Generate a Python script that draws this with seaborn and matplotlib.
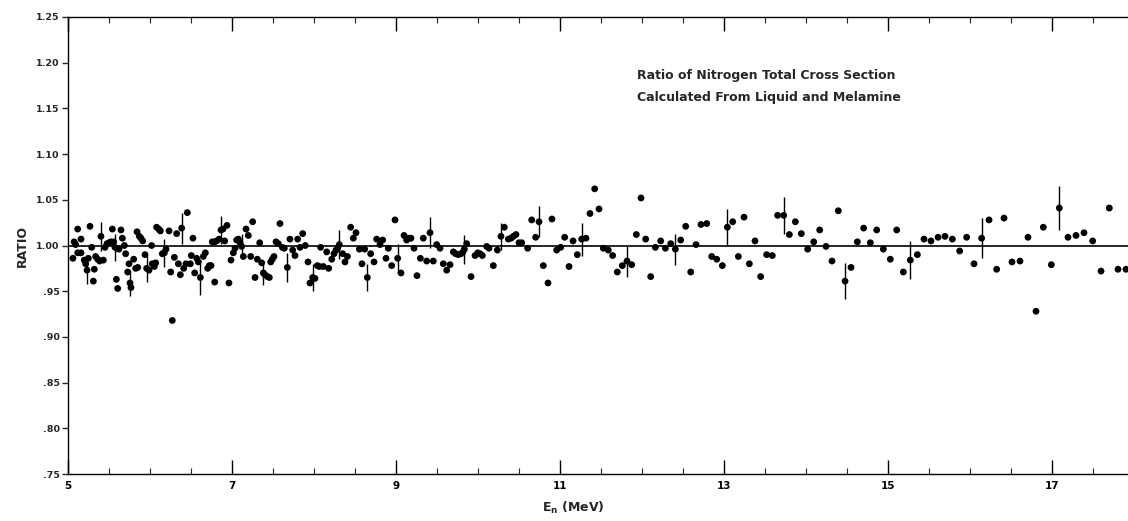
import numpy as np
import pandas as pd
import seaborn as sns
import matplotlib.pyplot as plt

# Neutron energy (MeV) and cross-section ratio for each measured point
energy = [
    5.060, 5.075, 5.093, 5.118, 5.118, 5.159, 5.159, 5.199, 5.216, 5.232, 5.248, 5.268,
    5.289, 5.309, 5.321, 5.337, 5.362, 5.386, 5.402, 5.431, 5.451, 5.476, 5.500, 5.524,
    5.541, 5.557, 5.573, 5.590, 5.598, 5.606, 5.622, 5.646, 5.663, 5.687, 5.703, 5.728,
    5.744, 5.756, 5.768, 5.801, 5.825, 5.842, 5.850, 5.870, 5.890, 5.911, 5.939, 5.959,
    5.988, 6.020, 6.028, 6.053, 6.069, 6.081, 6.106, 6.126, 6.150, 6.175, 6.195, 6.232,
    6.252, 6.272, 6.297, 6.325, 6.346, 6.370, 6.386, 6.411, 6.439, 6.455, 6.492, 6.504,
    6.524, 6.545, 6.569, 6.589, 6.614, 6.650, 6.675, 6.703, 6.724, 6.744, 6.760, 6.789,
    6.789, 6.813, 6.842, 6.866, 6.890, 6.911, 6.939, 6.963, 6.988, 7.016,
    7.037, 7.057, 7.077, 7.098, 7.118, 7.138, 7.171, 7.199, 7.228, 7.252, 7.281, 7.309,
    7.338, 7.362, 7.382, 7.402, 7.431, 7.455, 7.472, 7.492, 7.512, 7.537, 7.565, 7.585,
    7.614, 7.638, 7.675, 7.707, 7.740, 7.768, 7.801, 7.829, 7.862, 7.894, 7.927, 7.951,
    7.984, 8.012, 8.041, 8.065, 8.081, 8.114, 8.155, 8.179, 8.216, 8.244, 8.268, 8.289,
    8.309, 8.350, 8.378, 8.407, 8.447, 8.480, 8.512, 8.553, 8.585, 8.618, 8.650, 8.691,
    8.732, 8.764, 8.805, 8.837, 8.878, 8.907,
    8.947, 8.988, 9.020, 9.061, 9.098, 9.130, 9.159, 9.183, 9.220, 9.256, 9.297, 9.333,
    9.374, 9.415, 9.455, 9.496, 9.537, 9.577, 9.618, 9.659, 9.699, 9.728, 9.760, 9.793,
    9.817, 9.834, 9.862, 9.915, 9.964, 9.996, 10.024, 10.053, 10.106, 10.134, 10.187, 10.236,
    10.280, 10.321, 10.370, 10.403, 10.431, 10.463, 10.500, 10.533, 10.606, 10.655, 10.703, 10.744,
    10.797,
    10.854, 10.902, 10.959, 11.008, 11.057, 11.110, 11.159, 11.211, 11.264, 11.317, 11.366, 11.423,
    11.476, 11.528, 11.589, 11.642, 11.699, 11.760, 11.817, 11.874, 11.931, 11.988, 12.045, 12.106,
    12.163, 12.228, 12.285, 12.350, 12.407, 12.472, 12.533, 12.594, 12.659,
    12.719, 12.789, 12.850, 12.911, 12.980, 13.041, 13.106, 13.175, 13.244, 13.309, 13.378, 13.447,
    13.520, 13.589, 13.654, 13.728, 13.797, 13.870, 13.943, 14.020, 14.094, 14.167, 14.244, 14.317,
    14.394, 14.476, 14.549,
    14.626, 14.703, 14.785, 14.862, 14.943, 15.028, 15.106, 15.187, 15.272, 15.358, 15.439, 15.524,
    15.610, 15.695, 15.785, 15.874, 15.959, 16.049, 16.142, 16.232, 16.325, 16.415,
    16.512, 16.610, 16.707, 16.805, 16.894, 16.992, 17.089, 17.195, 17.293, 17.390, 17.496, 17.598,
    17.699, 17.805, 17.902,
]
ratio = [
    0.986, 1.004, 1.001, 1.018, 0.992, 1.007, 0.992, 0.984, 0.980, 0.973, 0.986, 1.021,
    0.998, 0.961, 0.974, 0.988, 0.985, 0.983, 1.010, 0.984, 0.998, 1.002, 1.003, 1.004,
    1.018, 1.004, 0.998, 0.963, 0.997, 0.953, 0.996, 1.017, 1.008, 1.000, 0.991, 0.971,
    0.980, 0.959, 0.954, 0.985, 0.975, 1.015, 0.976, 1.010, 1.008, 1.005, 0.990, 0.975,
    0.973, 1.000, 0.980, 0.977, 0.981, 1.020, 1.018, 1.016, 0.991, 0.992, 0.996, 1.016,
    0.971, 0.918, 0.987, 1.013, 0.980, 0.968, 1.019, 0.975, 0.980, 1.036, 0.980, 0.989,
    1.008, 0.970, 0.986, 0.982, 0.965, 0.988, 0.992, 0.975, 0.978, 0.978, 1.004, 1.004,
    0.960, 1.005, 1.007, 1.017, 1.018, 1.005, 1.022, 0.959, 0.984, 0.992,
    0.997, 1.006, 1.007, 1.003, 0.999, 0.988, 1.018, 1.011, 0.988, 1.026, 0.965, 0.985,
    1.003, 0.981, 0.970, 0.968, 0.966, 0.965, 0.982, 0.985, 0.988, 1.004, 1.002, 1.024,
    0.998, 0.997, 0.976, 1.007, 0.995, 0.989, 1.007, 0.998, 1.013, 1.000, 0.982, 0.959,
    0.965, 0.964, 0.978, 0.977, 0.998, 0.977, 0.993, 0.975, 0.985, 0.991, 0.995, 0.997,
    1.001, 0.991, 0.982, 0.988, 1.020, 1.008, 1.014, 0.996, 0.980, 0.996, 0.965, 0.991,
    0.982, 1.007, 1.001, 1.006, 0.986, 0.997,
    0.978, 1.028, 0.986, 0.970, 1.011, 1.006, 1.008, 1.008, 0.997, 0.967, 0.986, 1.008,
    0.983, 1.014, 0.983, 1.001, 0.997, 0.980, 0.973, 0.979, 0.993, 0.991, 0.990, 0.991,
    0.993, 0.996, 1.002, 0.966, 0.989, 0.992, 0.991, 0.989, 0.999, 0.997, 0.978, 0.995,
    1.010, 1.020, 1.007, 1.008, 1.010, 1.012, 1.003, 1.003, 0.997, 1.028, 1.009, 1.026,
    0.978,
    0.959, 1.029, 0.995, 0.998, 1.009, 0.977, 1.005, 0.990, 1.007, 1.008, 1.035, 1.062,
    1.040, 0.997, 0.995, 0.989, 0.971, 0.978, 0.983, 0.979, 1.012, 1.052, 1.007, 0.966,
    0.998, 1.005, 0.997, 1.002, 0.996, 1.006, 1.021, 0.971, 1.001,
    1.023, 1.024, 0.988, 0.985, 0.978, 1.020, 1.026, 0.988, 1.031, 0.980, 1.005, 0.966,
    0.990, 0.989, 1.033, 1.033, 1.012, 1.026, 1.013, 0.996, 1.004, 1.017, 0.999, 0.983,
    1.038, 0.961, 0.976,
    1.004, 1.019, 1.003, 1.017, 0.996, 0.985, 1.017, 0.971, 0.984, 0.990, 1.007, 1.005,
    1.009, 1.010, 1.007, 0.994, 1.009, 0.980, 1.008, 1.028, 0.974, 1.030,
    0.982, 0.983, 1.009, 0.928, 1.020, 0.979, 1.041, 1.009, 1.011, 1.014, 1.005, 0.972,
    1.041, 0.974, 0.974,
]

# Points carrying a statistical error bar (half-length in ratio units)
err_energy = [5.232, 5.402, 5.573, 5.756, 5.959, 6.175, 6.386, 6.614, 6.866, 7.118,
              7.382, 7.675, 7.984, 8.309, 8.650, 9.020, 9.415, 9.834, 10.280, 10.744,
              11.264, 11.817, 12.407, 13.041, 13.728, 14.476, 15.272, 16.142, 17.089]
err_ratio = [0.973, 1.010, 0.998, 0.959, 0.975, 0.992, 1.019, 0.965, 1.017, 0.999,
             0.970, 0.976, 0.965, 1.001, 0.965, 0.986, 1.014, 0.996, 1.010, 1.026,
             1.007, 0.983, 0.996, 1.020, 1.033, 0.961, 0.984, 1.008, 1.041]
err_half = [0.015, 0.016, 0.015, 0.014, 0.015, 0.015, 0.017, 0.019, 0.015, 0.014,
            0.013, 0.016, 0.015, 0.016, 0.015, 0.016, 0.017, 0.016, 0.015, 0.017,
            0.018, 0.017, 0.017, 0.020, 0.020, 0.020, 0.021, 0.022, 0.024]

x_major = [5, 7, 9, 11, 13, 15, 17]
y_ticks = [0.75, 0.80, 0.85, 0.90, 0.95, 1.00, 1.05, 1.10, 1.15, 1.20, 1.25]
y_labels = [".75", ".80", ".85", ".90", ".95", "1.00", "1.05", "1.10", "1.15", "1.20", "1.25"]

sns.set_style("ticks")
plt.rcParams["font.family"] = ["DejaVu Sans"]
plt.rcParams["axes.linewidth"] = 1.0

W, H = 1128, 521
fig = plt.figure(figsize=(W / 100, H / 100), dpi=100)
ax = fig.add_axes([68 / W, 1 - 474 / H, (1134 - 68) / W, (474 - 17) / H])

df = pd.DataFrame({"energy": energy, "ratio": ratio})

# unity reference line
ax.axhline(1.0, color="black", lw=1.2, zorder=1)

# error bars
lo = np.array(err_ratio) - np.array(err_half)
hi = np.array(err_ratio) + np.array(err_half)
ax.vlines(err_energy, lo, hi, color="black", lw=1.0, zorder=2)

sns.scatterplot(data=df, x="energy", y="ratio", color="black", marker="o",
                s=24, edgecolor="none", linewidth=0, ax=ax, zorder=3)

ax.set_xlim(5, 18)
ax.set_ylim(0.75, 1.25)
ax.set_xticks(x_major)
ax.set_xticklabels([str(v) for v in x_major], fontweight="bold", fontsize=7.5)
ax.set_xticks(np.arange(5, 18.01, 0.5), minor=True)
ax.set_yticks(y_ticks)
ax.set_yticklabels(y_labels, fontweight="bold", fontsize=6.8)

ax.tick_params(axis="x", which="major", direction="in", length=10, width=1.0,
               top=True, pad=5, colors="black")
ax.tick_params(axis="x", which="minor", direction="in", length=4, width=0.8, top=True)
ax.tick_params(axis="y", which="major", direction="out", length=4, width=1.0, pad=2)

ax.spines["right"].set_visible(False)
for s in ("left", "bottom", "top"):
    ax.spines[s].set_color("black")

ax.set_xlabel("")
ax.set_ylabel("")

fig.text(22 / W, 1 - 246 / H, "RATIO", rotation=90, ha="center", va="center",
         fontsize=9, fontweight="bold")
fig.text(573 / W, 1 - 508 / H, r"E$_{\mathbf{n}}$ (MeV)", ha="center", va="center",
         fontsize=9, fontweight="bold")

fig.text(637 / W, 1 - 76 / H, "Ratio of Nitrogen Total Cross Section",
         ha="left", va="center", fontsize=9, fontweight="bold")
fig.text(637 / W, 1 - 98 / H, "Calculated From Liquid and Melamine",
         ha="left", va="center", fontsize=9, fontweight="bold")

fig.savefig("out.png", dpi=100)
